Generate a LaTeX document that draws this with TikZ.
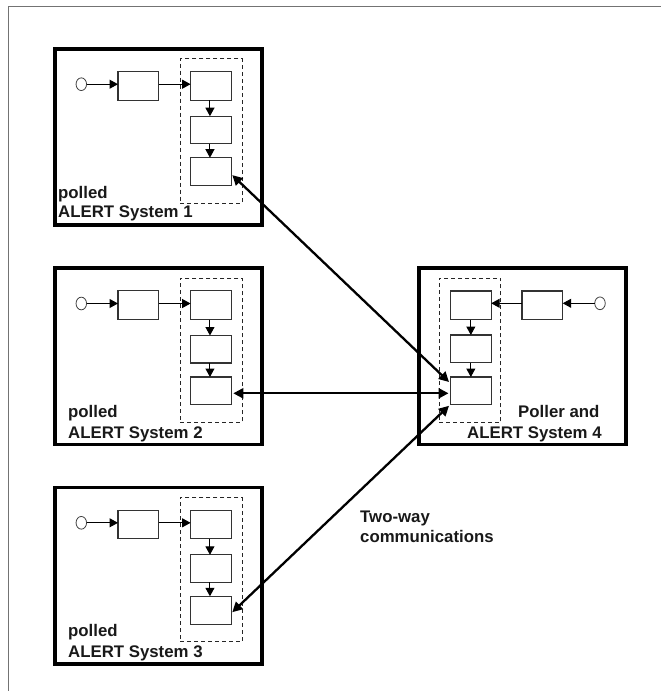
\documentclass[tikz,border=0pt]{standalone}
\usepackage{fontspec}
\setmainfont{Liberation Sans}
\usetikzlibrary{arrows.meta,calc,shapes.geometric}
\tikzset{
  frame/.style={draw=black!55,line width=0.9pt},
  sysbox/.style={draw=black,line width=3.6pt,minimum width=207.5pt,minimum height=176.5pt,inner sep=0pt,outer sep=0pt,anchor=north west},
  dashbox/.style={draw=black!85,dash pattern=on 4pt off 3pt,line width=0.9pt,minimum width=61.7pt,minimum height=144.6pt,inner sep=0pt,outer sep=0pt,anchor=north west},
  block/.style={draw=black!80,line width=1.1pt,minimum width=40.7pt,inner sep=0pt,outer sep=0pt,anchor=north west,fill=white},
  src/.style={draw=black!75,line width=0.8pt,ellipse,minimum width=10.5pt,minimum height=12.7pt,inner sep=0pt,outer sep=0pt},
  flow/.style={draw=black,line width=1pt,-{Triangle[length=8.5pt,width=9pt]}},
  link/.style={draw=black,line width=2.3pt,{Triangle[length=10pt,width=10pt]}-{Triangle[length=10pt,width=10pt]}},
  lab/.style={font=\bfseries\fontsize{16.8}{17}\selectfont,anchor=base west,inner sep=0pt,text=black!90},
}
\newcommand{\polledsys}[2]{% id, y of the outer box top
  \node[sysbox] (sys#1) at (54.7,#2) {};
  \node[dashbox] (dash#1) at (180.3,#2+10) {};
  \node[src] (in#1) at (81.3,#2+35.5) {};
  \node[block,minimum height=28.7pt] (pre#1) at (118,#2+22.8) {};
  \node[block,minimum height=28.7pt] (a#1) at (190.6,#2+22.8) {};
  \node[block,minimum height=27.5pt] (b#1) at (190.6,#2+67.5) {};
  \node[block,minimum height=27.8pt] (c#1) at (190.6,#2+109) {};
  \draw[flow] (in#1) -- (in#1 -| pre#1.west);
  \draw[flow] (in#1 -| pre#1.east) -- (in#1 -| a#1.west);
  \draw[flow] ([xshift=-1pt]a#1.south) -- ([xshift=-1pt]b#1.north);
  \draw[flow] ([xshift=-1pt]b#1.south) -- ([xshift=-1pt]c#1.north);
}
\begin{document}
\begin{tikzpicture}[x=1pt,y=-1pt]
\useasboundingbox (0,0) rectangle (661,691);
\draw[frame] (661,6.8) -- (8.7,6.8) -- (8.7,691);
\polledsys{1}{48.7}
\polledsys{2}{268}
\polledsys{3}{487.3}
% system 4
\node[sysbox] (sys4) at (418.7,268) {};
\node[dashbox] (dash4) at (439,278) {};
\node[block,minimum height=28.7pt] (a4) at (450.5,291) {};
\node[block,minimum height=27.5pt] (b4) at (450.5,335) {};
\node[block,minimum height=27.8pt] (c4) at (450.5,377) {};
\node[block,minimum height=28.7pt] (pre4) at (522,291) {};
\node[src] (in4) at (600,303.3) {};
\draw[flow] (in4) -- (in4 -| pre4.east);
\draw[flow] (in4 -| pre4.west) -- (in4 -| a4.east);
\draw[flow] (a4) -- (b4);
\draw[flow] (b4) -- (c4);
% links
\draw[link] ($(c1.east)+(1,3.5)$) -- ($(c4.north west)+(-1.5,5)$);
\draw[link] ($(c2.east)+(2,2.4)$) -- ($(c4.west)+(-2,2.4)$);
\draw[link] ($(c3.east)+(1,2)$) -- ($(c4.south west)+(-1.5,1)$);
% labels
\node[lab] (l1a) at (58,198) {polled};
\node[lab] (l1b) at (58,217) {ALERT System 1};
\node[lab] (l2a) at (68,417) {polled};
\node[lab] (l2b) at (68,438) {ALERT System 2};
\node[lab] (l3a) at (68,636) {polled};
\node[lab] (l3b) at (68,657) {ALERT System 3};
\node[lab] (l4a) at (518,417) {Poller and};
\node[lab] (l4b) at (467,438) {ALERT System 4};
\node[lab] (l5a) at (360,522) {Two-way};
\node[lab] (l5b) at (360,542) {communications};
\end{tikzpicture}
\end{document}
